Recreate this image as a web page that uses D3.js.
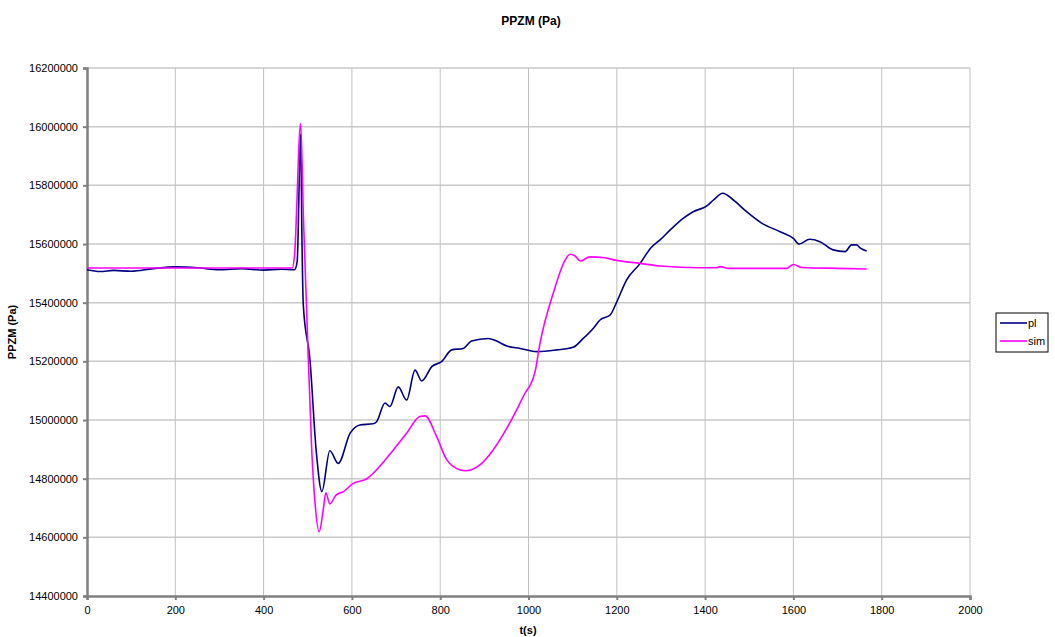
<!DOCTYPE html>
<html>
<head>
<meta charset="utf-8">
<script src="https://cdn.jsdelivr.net/npm/d3@7/dist/d3.min.js"></script>
<style>
  body { margin: 0; background: #fff; }
  svg { font-family: "Liberation Sans", Arial, sans-serif; }
</style>
</head>
<body>
<div id="chart"></div>
<script>
// time (s) and pressure (Pa)
let plT = [0, 30, 60, 100, 150, 200, 250, 300, 350, 400, 440, 470, 476, 484, 487, 490, 505, 519, 532, 550, 569, 596, 618, 648, 656, 675, 686, 705, 724, 743, 758, 781, 803, 826, 852, 871, 909, 928, 951, 981, 1019, 1064, 1101, 1124, 1147, 1162, 1185, 1200, 1222, 1253, 1276, 1298, 1321, 1351, 1373, 1404, 1419, 1440, 1464, 1494, 1528, 1570, 1600, 1613, 1637, 1660, 1690, 1717, 1732, 1743, 1751, 1766];
let plV = [15512000, 15506000, 15510000, 15507000, 15516000, 15522000, 15519000, 15512000, 15516000, 15511000, 15514000, 15512000, 15540000, 15975000, 15600000, 15390000, 15205000, 14898000, 14756000, 14895000, 14852000, 14955000, 14983000, 14987000, 14994000, 15058000, 15046000, 15113000, 15068000, 15170000, 15133000, 15182000, 15199000, 15239000, 15244000, 15269000, 15278000, 15269000, 15252000, 15244000, 15233000, 15239000, 15248000, 15278000, 15313000, 15341000, 15358000, 15403000, 15477000, 15534000, 15585000, 15614000, 15648000, 15688000, 15710000, 15730000, 15750000, 15773000, 15750000, 15710000, 15671000, 15642000, 15619000, 15600000, 15616000, 15608000, 15580000, 15574000, 15597000, 15597000, 15587000, 15576000];

let simT = [0, 100, 200, 300, 400, 465, 470, 484, 490, 498, 509, 516, 526, 535, 541, 550, 564, 581, 603, 633, 656, 694, 724, 754, 766, 792, 815, 830, 858, 890, 920, 951, 973, 994, 1003, 1015, 1026, 1056, 1083, 1094, 1105, 1117, 1139, 1173, 1196, 1253, 1298, 1388, 1425, 1434, 1453, 1585, 1600, 1619, 1700, 1766];
let simV = [15518000, 15518000, 15518000, 15518000, 15518000, 15518000, 15560000, 16011000, 15700000, 15352000, 14898000, 14727000, 14619000, 14693000, 14752000, 14714000, 14744000, 14756000, 14784000, 14799000, 14830000, 14898000, 14955000, 15012000, 15014000, 14943000, 14864000, 14841000, 14827000, 14847000, 14898000, 14972000, 15034000, 15096000, 15116000, 15165000, 15261000, 15432000, 15545000, 15565000, 15560000, 15542000, 15556000, 15553000, 15545000, 15534000, 15525000, 15519000, 15519000, 15523000, 15517000, 15517000, 15530000, 15520000, 15517000, 15515000];

let seriesNames = ['pl', 'sim'];
let seriesColors = ['#000080', '#ff00ff'];
let xTicks = [0, 200, 400, 600, 800, 1000, 1200, 1400, 1600, 1800, 2000];
let yTicks = [14400000, 14600000, 14800000, 15000000, 15200000, 15400000, 15600000, 15800000, 16000000, 16200000];

let margin = { top: 68, right: 85, bottom: 41, left: 87 };
let width = 1055 - margin.left - margin.right;
let height = 637 - margin.top - margin.bottom;

let svg = d3.select('#chart')
    .append('svg')
    .attr('width', 1055)
    .attr('height', 637);

let g = svg.append('g')
    .attr('transform', 'translate(' + margin.left + ',' + margin.top + ')');

let x = d3.scaleLinear().domain([0, 2000]).range([0, width]);
let y = d3.scaleLinear().domain([14400000, 16200000]).range([height, 0]);

// grid
g.selectAll('.vgrid')
    .data(xTicks.slice(1))
    .enter()
    .append('line')
    .attr('x1', function (d) { return x(d); })
    .attr('x2', function (d) { return x(d); })
    .attr('y1', 0)
    .attr('y2', height)
    .style('stroke', '#c0c0c0')
    .style('stroke-width', 1);

g.selectAll('.hgrid')
    .data(yTicks.slice(1))
    .enter()
    .append('line')
    .attr('x1', 0)
    .attr('x2', width)
    .attr('y1', function (d) { return y(d); })
    .attr('y2', function (d) { return y(d); })
    .style('stroke', '#c8c8c8')
    .style('stroke-width', 1.5);

// axes
let xAxis = g.append('g')
    .attr('transform', 'translate(0,' + height + ')')
    .call(d3.axisBottom(x).tickValues(xTicks).tickSize(4).tickPadding(6).tickFormat(d3.format('d')));
let yAxis = g.append('g')
    .call(d3.axisLeft(y).tickValues(yTicks).tickSize(4).tickPadding(5).tickFormat(d3.format('d')));

[xAxis, yAxis].forEach(function (a) {
    a.select('.domain').style('stroke', '#808080').style('stroke-width', 2.5);
    a.selectAll('.tick line').style('stroke', '#808080').style('stroke-width', 2);
    a.selectAll('.tick text')
        .style('font-size', '11px')
        .style('fill', '#000')
        .style('font-family', '"Liberation Sans", Arial, sans-serif');
});

// lines
let line = d3.line()
    .x(function (d) { return x(d[0]); })
    .y(function (d) { return y(d[1]); });

let plData = plT.map(function (t, i) { return [t, plV[i]]; });
let simData = simT.map(function (t, i) { return [t, simV[i]]; });

g.append('path')
    .datum(plData)
    .attr('d', line.curve(d3.curveMonotoneX))
    .style('fill', 'none')
    .style('stroke', seriesColors[0])
    .style('stroke-width', 1.6);

g.append('path')
    .datum(simData)
    .attr('d', line.curve(d3.curveMonotoneX))
    .style('fill', 'none')
    .style('stroke', seriesColors[1])
    .style('stroke-width', 1.6);

// titles
svg.append('text')
    .attr('x', 531)
    .attr('y', 25)
    .attr('text-anchor', 'middle')
    .style('font-size', '12px')
    .style('font-weight', 'bold')
    .text('PPZM (Pa)');

svg.append('text')
    .attr('transform', 'translate(16,' + (margin.top + height / 2) + ') rotate(-90)')
    .attr('text-anchor', 'middle')
    .style('font-size', '11px')
    .style('font-weight', 'bold')
    .text('PPZM (Pa)');

svg.append('text')
    .attr('x', 528)
    .attr('y', 634)
    .attr('text-anchor', 'middle')
    .style('font-size', '11px')
    .style('font-weight', 'bold')
    .text('t(s)');

// legend
let legend = svg.append('g').attr('transform', 'translate(996,313)');
legend.append('rect')
    .attr('width', 52)
    .attr('height', 39)
    .style('fill', '#fff')
    .style('stroke', '#000')
    .style('stroke-width', 1);

seriesNames.forEach(function (name, i) {
    legend.append('line')
        .attr('x1', 4)
        .attr('x2', 31)
        .attr('y1', 10 + i * 18)
        .attr('y2', 10 + i * 18)
        .style('stroke', seriesColors[i])
        .style('stroke-width', 1.6);
    legend.append('text')
        .attr('x', 32)
        .attr('y', 14 + i * 18)
        .style('font-size', '11px')
        .text(name);
});
</script>
</body>
</html>
